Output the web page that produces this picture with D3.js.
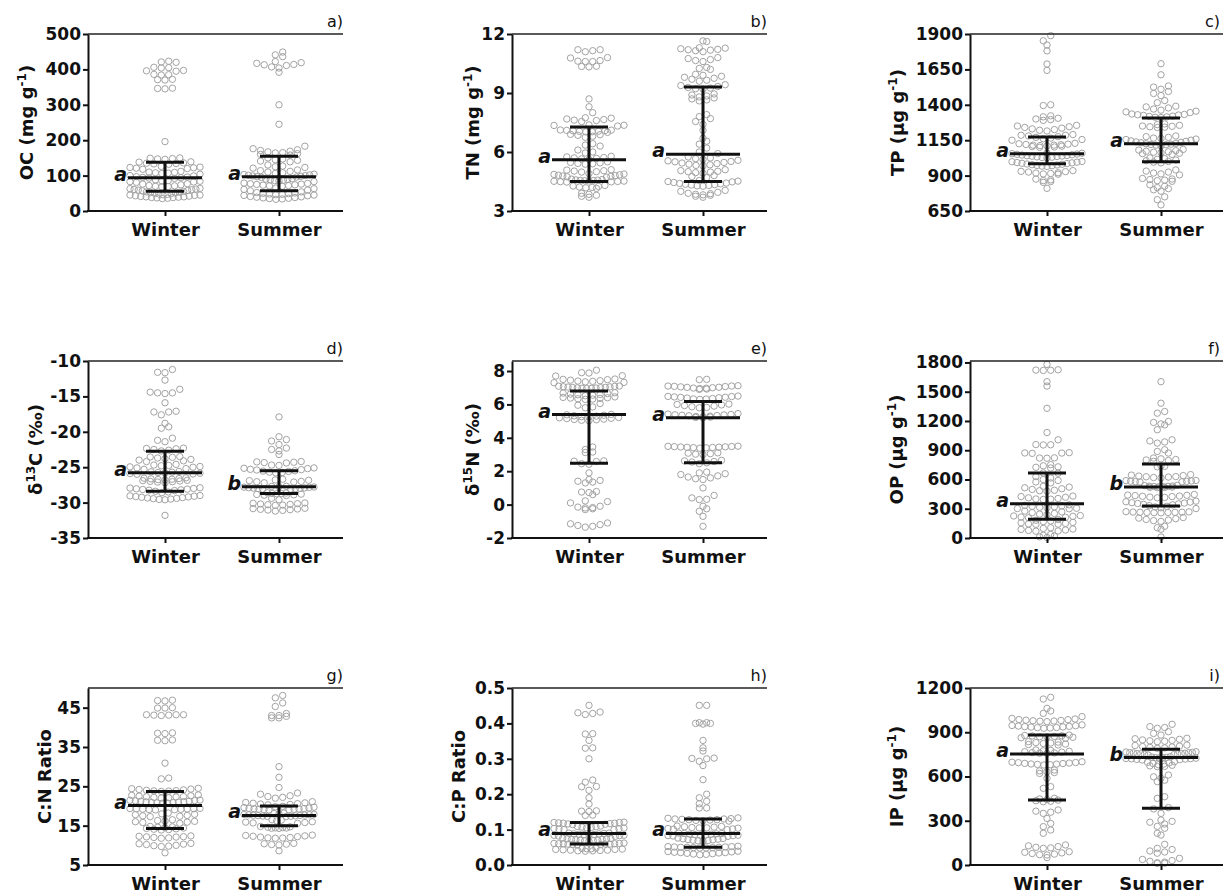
<!DOCTYPE html>
<html>
<head>
<meta charset="utf-8">
<script src="https://cdn.jsdelivr.net/npm/d3@7"></script>
<style>
body { margin: 0; background: #fff; }
</style>
</head>
<body>
<svg id="fig" width="1223" height="896"></svg>
<script>
// ---- data (one array per panel and season) ----
var seasons = ["Winter", "Summer"];

var ocWinter = [423, 421, 420, 406, 404, 405, 397, 396, 395, 386, 385, 384, 371, 370, 372, 347, 346, 345,
    196,
    150, 149, 148, 147, 146,
    139, 138, 136, 135, 134, 133, 132,
    126, 124, 123, 122, 121, 120, 118,
    112, 110, 109, 108, 107, 106, 104,
    100, 99, 97, 96, 95, 94, 93, 92,
    88, 86, 85, 84, 83, 82, 81,
    77, 76, 74, 72, 71, 70, 69, 68,
    64, 63, 62, 61, 60, 59, 58, 57,
    55, 54, 53, 52, 51, 50, 49, 48, 47, 46, 45,
    45, 44, 43, 42, 41, 40, 40, 39, 38, 38, 37, 36, 35];
var ocSummer = [449, 441, 436, 422, 419, 417, 414, 413, 411, 407, 404, 392,
    300, 245, 183,
    176, 173, 171, 169, 167, 165, 164, 162, 160, 158,
    150, 147, 145, 143, 141, 139,
    130, 127, 125, 123, 121,
    116, 114, 112, 110, 108, 106,
    104, 103, 102, 101, 100, 99, 98, 97, 96, 95,
    91, 90, 89, 88, 87, 86, 85, 83,
    79, 78, 77, 76, 75, 74, 73, 72, 71, 70,
    65, 63, 61, 59, 57,
    54, 52, 51, 50, 49, 48, 47, 46, 45, 44, 43,
    41, 40, 39, 38, 37, 36, 35, 34, 33];

var tnWinter = [11.2, 11.15, 11.1, 11.2,
    10.8, 10.6, 10.65, 10.35, 10.33, 10.36, 10.62, 10.6, 10.78,
    8.7, 8.3, 8.0,
    7.72, 7.65, 7.6, 7.55, 7.62, 7.68, 7.74,
    7.38, 7.35, 7.32, 7.36,
    7.12, 7.1, 7.08, 7.05, 7.02, 7.0, 7.03, 7.06, 7.09, 7.11,
    6.9, 6.85, 6.8, 6.75, 6.88,
    6.42, 6.35, 6.3,
    6.1, 6.0, 5.95,
    5.78, 5.75, 5.72, 5.7, 5.68, 5.65, 5.62,
    5.5, 5.47, 5.45, 5.42, 5.4, 5.38,
    5.1, 5.08, 5.05, 5.03, 5.0, 4.98,
    4.9, 4.88, 4.86, 4.84, 4.82, 4.8, 4.78, 4.76, 4.74, 4.72,
    4.62, 4.6, 4.58, 4.57, 4.56, 4.55, 4.54, 4.53, 4.52, 4.51, 4.5, 4.49, 4.48, 4.47,
    4.3, 4.27, 4.25, 4.22, 4.2, 4.18, 4.15,
    3.9, 3.85, 3.75, 3.7, 3.8];
var tnSummer = [11.65, 11.62,
    11.3, 11.25, 11.2, 11.15, 11.1, 11.18, 11.22, 11.28,
    10.8, 10.75, 10.7, 10.65, 10.6,
    10.3, 10.25, 10.2,
    9.95, 9.9, 9.85, 9.8, 9.75, 9.7, 9.65, 9.6,
    9.42, 9.38, 9.33, 9.28, 9.25, 9.22, 9.2,
    8.95, 8.9, 8.85, 8.8, 8.75, 8.7, 8.65, 8.6,
    7.9, 7.8, 7.7, 7.55, 7.4,
    7.1,
    6.7, 6.55, 6.4,
    6.2, 6.0, 5.92,
    5.75, 5.7, 5.66, 5.62, 5.58, 5.55, 5.52, 5.5, 5.47, 5.44, 5.41, 5.38, 5.35, 5.32, 5.3,
    5.1, 5.05, 5.02, 5.0, 4.98, 4.95, 4.92,
    4.8, 4.75, 4.7,
    4.55, 4.52, 4.5, 4.48, 4.45, 4.42, 4.4, 4.38, 4.36, 4.34, 4.32, 4.3, 4.28, 4.26,
    4.05, 4.0, 3.95, 3.9, 3.88, 3.85, 3.82, 3.8, 3.75, 3.7];

var tpWinter = [1888, 1852, 1822, 1781, 1688, 1643,
    1400, 1395,
    1322, 1315, 1305, 1300, 1295, 1290,
    1255, 1250, 1245, 1240, 1235, 1230, 1225, 1220, 1215,
    1190, 1185, 1180, 1175, 1170, 1165, 1160, 1155, 1150, 1185,
    1128, 1125, 1122, 1118, 1115, 1112, 1108, 1105, 1102, 1100, 1110, 1120, 1115,
    1060, 1058, 1055, 1052, 1050, 1047, 1045, 1042, 1040, 1037, 1035, 1032, 1030, 1028, 1025, 1038,
    1000, 998, 995, 992, 990, 987, 985, 982, 980, 977, 975, 972, 970, 967, 965,
    935, 930, 928, 925, 920, 918, 915, 912, 910,
    875, 870, 865, 858, 852,
    810];
var tpSummer = [1690, 1612, 1533, 1525, 1510, 1494, 1480, 1465, 1430, 1415,
    1390, 1385, 1378, 1370, 1362, 1355, 1350, 1345,
    1335, 1332, 1328, 1325, 1320, 1318, 1315, 1312, 1310, 1330,
    1265, 1260, 1255, 1250, 1248, 1245, 1242, 1240,
    1180, 1175, 1170, 1165, 1162, 1158, 1155, 1150,
    1145, 1142, 1138, 1135, 1132, 1128, 1125, 1122, 1120, 1118, 1115, 1110,
    1085, 1080, 1076, 1072, 1068, 1065, 1062, 1058, 1055, 1050,
    1025, 1020, 1015, 1010, 1005, 1000, 995, 990,
    940, 932, 925, 918, 912, 905,
    880, 876, 872, 868, 864, 860,
    835, 825, 815, 808, 800, 790,
    750, 730,
    693];

var c13Winter = [-11.2, -11.6, -11.65,
    -12.7,
    -14.0, -14.5, -14.6, -14.5, -14.4,
    -15.9,
    -17.2, -17.2, -17.6, -17.1,
    -18.8, -19.3, -19.5,
    -20.9, -21.2, -21.4,
    -22.3, -22.4, -22.6, -22.7, -22.5, -22.35,
    -23.5, -23.6, -23.8, -23.9, -24.0, -24.1, -23.7, -23.55, -24.2,
    -24.6, -24.7, -24.8, -24.9, -25.0, -25.1, -25.2, -25.3, -24.75, -24.95,
    -25.6, -25.7, -25.8, -25.9, -26.0, -25.75, -25.85, -25.95, -25.65,
    -26.5, -26.6, -26.7, -26.8, -26.9, -27.0, -27.1, -27.2, -26.55, -26.65, -26.75, -26.85, -26.95, -27.05,
    -27.9, -28.0, -28.1, -28.2, -28.3, -28.4, -28.5, -28.6, -27.95, -28.05, -28.15, -28.25,
    -29.0, -29.1, -29.2, -29.3, -29.4, -29.5, -29.05, -29.15, -29.25, -29.35, -29.45, -29.55, -29.6,
    -31.8];
var c13Summer = [-17.9,
    -20.7, -21.1, -21.3,
    -21.8, -22.3, -22.5, -22.7,
    -23.2,
    -24.2, -24.3, -24.4, -24.25, -24.35,
    -24.7, -24.75,
    -25.1, -25.2, -25.3, -25.4, -25.5, -25.6, -25.7, -25.8, -25.15, -25.35, -25.55, -25.75,
    -26.7, -26.8, -26.9, -27.0, -27.1, -27.2, -26.85, -27.05,
    -27.7, -27.75, -27.8, -27.85, -27.9, -27.95, -28.0, -28.05, -28.1, -27.72, -27.82, -27.92, -28.02, -28.08,
    -28.6, -28.65, -28.7, -28.75, -28.8, -28.85, -28.9, -28.95, -29.0, -28.72,
    -29.4, -29.6,
    -30.1, -30.2, -30.3, -30.15, -30.25, -30.35, -30.05, -30.4,
    -30.8, -30.9, -31.0, -31.1, -31.2, -30.85, -30.95, -31.05];

var n15Winter = [8.05, 7.9, 7.88, 7.7, 7.72,
    7.5, 7.45, 7.4, 7.35, 7.3, 7.32, 7.38, 7.42, 7.48, 7.52,
    7.1, 7.08, 7.05, 7.02, 7.0, 6.98, 6.96, 6.95, 6.97, 6.99, 7.01, 7.04, 7.06, 7.09,
    6.7, 6.68, 6.65, 6.62, 6.6, 6.58, 6.55, 6.52,
    6.45, 6.42, 6.4, 6.38, 6.36, 6.34, 6.32, 6.3,
    6.05, 5.95, 5.85, 5.8,
    5.4, 5.38, 5.35, 5.32, 5.3, 5.27, 5.25, 5.22, 5.2, 5.17, 5.15, 5.12, 5.1, 5.08, 5.05, 5.02,
    3.45, 3.3, 3.15, 3.12,
    2.62, 2.6, 2.58, 2.45, 2.42,
    1.9,
    1.5, 1.45, 1.4, 1.35, 1.3,
    0.78, 0.75, 0.72, 0.6,
    0.22, 0.18, 0.1,
    -0.1, -0.15, -0.2, -0.25, -0.3, -0.18,
    -1.1, -1.15, -1.2, -1.25, -1.3, -1.35];
var n15Summer = [7.5, 7.48,
    7.12, 7.1, 7.08, 7.05, 7.02, 7.0, 6.98, 6.95, 6.92, 6.9, 6.97, 7.03, 7.07, 7.1,
    6.5, 6.48, 6.45, 6.42, 6.4, 6.38, 6.35, 6.32, 6.3, 6.33, 6.43, 6.47,
    6.02, 6.0, 5.97, 5.93, 5.9, 5.86, 5.82, 5.8,
    5.45, 5.42, 5.4, 5.37, 5.35, 5.32, 5.3, 5.28, 5.26, 5.24, 5.22, 5.2, 5.33, 5.38,
    3.5, 3.48, 3.46, 3.45, 3.44, 3.42, 3.4, 3.38, 3.47, 3.43, 3.41, 3.49,
    3.1, 3.08, 3.05, 3.02, 3.0,
    2.65, 2.62, 2.58, 2.55, 2.5, 2.45,
    1.95, 1.9, 1.85, 1.8, 1.72, 1.65, 1.6, 1.55, 1.5,
    1.0, 0.55, 0.4, 0.3, 0.32,
    -0.1, -0.25, -0.4,
    -0.7, -1.3];

var opWinter = [1780, 1722, 1720, 1718, 1725,
    1603, 1558,
    1330, 1082, 1007,
    956, 958, 954,
    871, 875, 868, 872,
    820, 822, 818,
    752, 740, 730, 725, 718,
    667, 665,
    630, 615, 600, 590, 575, 565,
    530, 522, 515, 505, 498, 490, 485, 480,
    430, 425, 418, 412, 405, 400, 398, 395,
    340, 335, 330, 325, 320, 315, 310, 305, 302, 300,
    276, 268, 260, 252, 245, 238, 230, 222, 215, 208, 212, 226,
    190, 182, 175, 168, 160, 155, 150, 145, 142, 140,
    105, 98, 92, 88, 82, 78, 72, 70,
    37, 28, 20, 12, 5];
var opSummer = [1603,
    1382, 1297, 1280,
    1195, 1185, 1170, 1160,
    1110,
    1007, 995, 985, 973,
    905, 888, 871,
    820, 812, 805, 800, 795, 786,
    740, 735, 730,
    650, 645, 640, 635, 630, 628, 625, 620, 616,
    590, 588, 585, 582, 580, 578, 576, 574,
    540, 537, 534, 531, 528, 525, 522, 519, 516, 530, 526, 520,
    446, 440, 435, 430, 425, 420, 416, 412, 438, 428,
    378, 372, 368, 362, 358, 354, 350, 345,
    340, 332, 325, 318, 310, 302,
    270, 268, 266, 264, 262, 260, 258, 265, 263, 261,
    210, 204, 198, 190, 184, 178, 170,
    120, 105, 90,
    10];

var cnWinter = [46.8, 46.9, 46.7,
    44.9, 44.9, 45.0,
    43.2, 43.1, 43.2, 43.0, 43.2, 43.1,
    38.5, 38.4, 38.6, 36.7, 36.6, 36.8,
    30.9,
    26.9, 27.1,
    24.5, 24.3, 24.1, 24.0, 23.9, 23.8, 23.7, 24.2, 24.4, 23.85,
    22.8, 22.6, 22.5, 22.4, 22.3, 22.2, 22.1, 22.0, 22.7, 22.35,
    21.5, 21.4, 21.3, 21.2, 21.1, 21.0, 20.9, 20.8, 20.7, 21.45, 21.25, 21.05, 20.85, 20.75,
    19.4, 19.35, 19.3, 19.25, 19.2, 19.15, 19.1, 19.05, 19.0, 19.32,
    18.2, 18.0, 17.8, 17.6, 17.5, 17.4, 17.3, 17.9,
    16.5, 16.3, 16.2, 16.0, 15.9, 15.8, 15.6, 16.1,
    14.8, 14.7, 14.6, 14.5, 14.4, 14.3, 14.2, 14.1, 14.0, 13.9,
    12.2, 12.1, 12.0, 11.9, 11.8, 12.3, 12.4, 12.15,
    10.5, 10.3, 10.2, 10.0, 9.9, 9.8, 9.7, 10.4,
    8.1];
var cnSummer = [48.1, 47.5, 46.2, 45.3,
    43.5, 43.0, 43.0, 42.8, 42.4, 42.4,
    30.0, 27.3, 24.7,
    23.3, 23.0, 22.6, 22.4, 22.2, 22.0,
    21.1, 20.9, 20.8, 20.7, 20.6, 20.5, 20.4, 20.3,
    19.9, 19.8, 19.7, 19.6, 19.5, 19.4, 19.35, 19.3, 19.25, 19.2, 19.15, 19.1, 19.05, 19.0,
    18.2, 18.1, 18.0, 17.9, 17.8, 17.7, 17.6, 17.55, 17.5, 17.45, 17.4, 17.35, 17.3, 17.75, 17.65, 17.85,
    16.5, 16.4, 16.2, 16.0, 15.9, 15.8, 15.7, 15.6,
    14.8, 14.7, 14.6, 14.5, 14.45, 14.4, 14.35, 14.3,
    12.6, 12.5, 12.4, 12.3, 12.2, 12.1, 12.0, 11.9, 11.85, 11.8,
    10.5, 10.4, 10.3, 10.2, 10.1,
    8.6];

var cpWinter = [0.451,
    0.43, 0.428, 0.425, 0.432,
    0.371, 0.37, 0.352,
    0.331, 0.33,
    0.30,
    0.234, 0.24, 0.222, 0.221, 0.211,
    0.19, 0.172,
    0.152, 0.151, 0.153, 0.14, 0.141,
    0.121, 0.12, 0.119, 0.118, 0.117, 0.116, 0.115, 0.114, 0.12, 0.118,
    0.11, 0.109, 0.108, 0.107, 0.106, 0.105, 0.104, 0.103, 0.102, 0.101, 0.1, 0.1,
    0.09, 0.089, 0.088, 0.087, 0.086, 0.085, 0.084, 0.083, 0.082, 0.081, 0.09, 0.088, 0.086, 0.084,
    0.076, 0.075, 0.074, 0.073, 0.072, 0.071, 0.07, 0.069, 0.068, 0.067, 0.072, 0.07,
    0.062, 0.061, 0.06, 0.06, 0.059, 0.059, 0.058, 0.058, 0.057, 0.06, 0.061, 0.059,
    0.048, 0.047, 0.046, 0.045, 0.044, 0.043, 0.042, 0.041, 0.04, 0.039, 0.046, 0.044, 0.042, 0.04];
var cpSummer = [0.451, 0.451,
    0.402, 0.4, 0.398, 0.4, 0.402,
    0.352, 0.331, 0.322, 0.301, 0.3, 0.302, 0.293, 0.281,
    0.241,
    0.2, 0.19, 0.18, 0.173, 0.161, 0.161,
    0.133, 0.132, 0.131, 0.13, 0.129, 0.128, 0.127, 0.126, 0.125, 0.124, 0.13, 0.128,
    0.11, 0.109, 0.108, 0.107, 0.106, 0.105, 0.104, 0.103, 0.102, 0.101, 0.1, 0.105,
    0.09, 0.089, 0.088, 0.087, 0.086, 0.085, 0.084, 0.083, 0.082, 0.081, 0.087, 0.085, 0.083, 0.089,
    0.076, 0.075, 0.074, 0.073, 0.072, 0.071, 0.07, 0.069, 0.068, 0.067,
    0.053, 0.052, 0.051, 0.05, 0.05, 0.049, 0.049, 0.048, 0.048, 0.051, 0.052, 0.05,
    0.039, 0.038, 0.037, 0.036, 0.035, 0.034, 0.033, 0.032, 0.031, 0.03, 0.029, 0.035];

var ipWinter = [1137, 1125,
    1062, 1044, 1028, 1006,
    994, 990, 986, 982, 978, 975, 972, 985, 980, 976,
    950, 946, 942, 938, 935, 932, 929, 927, 944, 936, 940, 931,
    881, 878, 875, 872, 869, 866, 863, 860, 876, 870,
    836, 833, 830, 827, 824, 820, 817, 814,
    780, 777, 774, 771, 768, 765, 762, 760, 758, 757,
    700, 697, 694, 691, 688, 685, 682, 680, 678, 695, 689, 684,
    644, 638, 632, 627, 621,
    588, 531, 520,
    452, 448, 444, 440, 436, 432, 429,
    373, 365, 358, 350,
    316,
    282, 260, 237, 215,
    136, 130, 125, 120, 116, 113,
    90, 86, 82, 78, 74, 70, 68,
    50];
var ipSummer = [954, 938, 932, 927,
    904, 892, 881,
    859, 856, 852, 848, 845, 842, 839, 836,
    813, 810, 806, 803, 800, 797, 794, 791,
    768, 766, 764, 762, 760, 758, 756, 754, 752, 750, 748, 746, 761, 755,
    734, 732, 730, 728, 726, 724, 722, 720, 718, 716, 714, 712, 727, 721,
    700, 696, 692, 688, 684, 680, 676, 672, 669, 667,
    610, 598, 588, 575, 565,
    463, 452,
    389, 380,
    350,
    305, 290, 278, 262, 249, 296,
    215, 203, 140,
    113, 105, 95, 88, 80,
    45, 38, 30, 25, 20, 15, 12, 11];

// median and interquartile range drawn as error bars, one entry per panel a) .. i)
var medWinter = [94, 5.6, 1054, -25.8, 5.39, 351, 20.1, 0.089, 753];
var medSummer = [97, 5.88, 1125, -27.75, 5.2, 524, 17.6, 0.089, 728];
var q1Winter = [56, 4.5, 983, -28.4, 2.47, 191, 14.3, 0.059, 441];
var q1Summer = [57, 4.5, 997, -28.7, 2.5, 327, 15.0, 0.05, 384];
var q3Winter = [138, 7.27, 1173, -22.75, 6.8, 667, 23.7, 0.12, 881];
var q3Summer = [155, 9.31, 1306, -25.5, 6.18, 760, 20.0, 0.13, 784];
var letterWinter = ["a", "a", "a", "a", "a", "a", "a", "a", "a"];
var letterSummer = ["a", "a", "a", "b", "a", "b", "a", "a", "b"];

var panelTags = ["a)", "b)", "c)", "d)", "e)", "f)", "g)", "h)", "i)"];
var yDomains = [[0, 500], [3, 12], [650, 1900], [-35, -10], [-2, 8.6], [0, 1815], [5, 50], [0, 0.5], [0, 1200]];
var yTicks = [
    [0, 100, 200, 300, 400, 500],
    [3, 6, 9, 12],
    [650, 900, 1150, 1400, 1650, 1900],
    [-35, -30, -25, -20, -15, -10],
    [-2, 0, 2, 4, 6, 8],
    [0, 300, 600, 900, 1200, 1500, 1800],
    [5, 15, 25, 35, 45],
    [0, 0.1, 0.2, 0.3, 0.4, 0.5],
    [0, 300, 600, 900, 1200]];
// title pieces: [text, superscript?]
var yTitles = [
    [["OC (mg g", 0], ["-1", 1], [")", 0]],
    [["TN (mg g", 0], ["-1", 1], [")", 0]],
    [["TP (\u00b5g g", 0], ["-1", 1], [")", 0]],
    [["\u03b4", 0], ["13", 1], ["C (\u2030)", 0]],
    [["\u03b4", 0], ["15", 1], ["N (\u2030)", 0]],
    [["OP (\u00b5g g", 0], ["-1", 1], [")", 0]],
    [["C:N Ratio", 0]],
    [["C:P Ratio", 0]],
    [["IP (\u00b5g g", 0], ["-1", 1], [")", 0]]];

var winterData = [ocWinter, tnWinter, tpWinter, c13Winter, n15Winter, opWinter, cnWinter, cpWinter, ipWinter];
var summerData = [ocSummer, tnSummer, tpSummer, c13Summer, n15Summer, opSummer, cnSummer, cpSummer, ipSummer];

// ---- layout ----
var colX = [88, 512, 970], rowY = [34, 361, 688];
var plotW = 255, plotH = 177;
var catX = [77, 191];
var titleOff = [55, 33, 66, 46, 33, 67, 37, 47, 67];
var FONT = "DejaVu Sans";
var pageW = 1223;
var dotR = 3.2, binH = 7, dotGap = 7.4, maxHalf = 35;

var svg = d3.select("#fig");

// Prism-like scatter: bin by pixel row, spread each row horizontally, lowest values in the middle
function swarm(vals, y, cx) {
    var pts = vals.map(function (v) { return {v: v, py: y(v)}; });
    var rows = d3.group(pts, function (d) { return Math.floor(d.py / binH); });
    rows.forEach(function (row) {
        row.sort(function (a, b) { return a.v - b.v; });
        var n = row.length;
        var s = n > 1 ? Math.min(dotGap, 2 * maxHalf / (n - 1)) : 0;
        var slots = d3.range(n).map(function (k) { return (k - (n - 1) / 2) * s; });
        slots.sort(function (a, b) { return Math.abs(a) - Math.abs(b) || a - b; });
        row.forEach(function (d, k) { d.px = cx + slots[k]; });
    });
    return pts;
}

panelTags.forEach(function (tag, i) {
    var x0 = colX[i % 3], y0 = rowY[Math.floor(i / 3)];
    var g = svg.append("g").attr("transform", "translate(" + x0 + "," + y0 + ")");

    var y = d3.scaleLinear().domain(yDomains[i]).range([plotH, 0]);
    var x = d3.scaleOrdinal().domain(seasons).range(catX);

    var sets = [
        {s: "Winter", vals: winterData[i], med: medWinter[i], q1: q1Winter[i], q3: q3Winter[i], letter: letterWinter[i]},
        {s: "Summer", vals: summerData[i], med: medSummer[i], q1: q1Summer[i], q3: q3Summer[i], letter: letterSummer[i]}
    ];

    // dots
    sets.forEach(function (set) {
        var pts = swarm(set.vals, y, x(set.s));
        g.append("g").selectAll("circle")
            .data(pts)
            .enter()
            .append("circle")
            .attr("cx", function (d) { return d.px; })
            .attr("cy", function (d) { return d.py; })
            .attr("r", dotR)
            .attr("fill", "none")
            .attr("stroke", "#a3a3a3")
            .attr("stroke-width", 1);
    });

    // median + IQR
    sets.forEach(function (set) {
        var cx = x(set.s);
        var eb = g.append("g").attr("stroke", "#111").attr("stroke-width", 3);
        eb.append("line").attr("x1", cx).attr("x2", cx).attr("y1", y(set.q1)).attr("y2", y(set.q3));
        eb.append("line").attr("x1", cx - 37).attr("x2", cx + 37).attr("y1", y(set.med)).attr("y2", y(set.med));
        eb.append("line").attr("x1", cx - 19).attr("x2", cx + 19).attr("y1", y(set.q1)).attr("y2", y(set.q1));
        eb.append("line").attr("x1", cx - 19).attr("x2", cx + 19).attr("y1", y(set.q3)).attr("y2", y(set.q3));
        g.append("text")
            .attr("x", cx - 38)
            .attr("y", y(set.med) + 3)
            .attr("text-anchor", "end")
            .attr("font-family", FONT)
            .attr("font-weight", "bold")
            .attr("font-style", "italic")
            .attr("font-size", 19)
            .attr("fill", "#111")
            .text(set.letter);
    });

    // axes
    var fmt = i == 7 ? d3.format(".1f") : function (d) { return String(d); };
    var ya = g.append("g")
        .call(d3.axisLeft(y).tickValues(yTicks[i]).tickSize(5).tickPadding(2).tickSizeOuter(0).tickFormat(fmt));
    ya.attr("font-family", FONT).attr("font-weight", "bold").attr("font-size", 17);
    ya.select(".domain").attr("stroke", "#111").attr("stroke-width", 2);
    ya.selectAll(".tick line").attr("stroke", "#111").attr("stroke-width", 2);
    ya.selectAll(".tick text").attr("fill", "#111");

    var xa = g.append("g")
        .attr("transform", "translate(0," + plotH + ")")
        .call(d3.axisBottom(x).tickSize(5).tickPadding(7).tickSizeOuter(0));
    xa.attr("font-family", FONT).attr("font-weight", "bold").attr("font-size", 18);
    xa.select(".domain").remove();
    xa.selectAll(".tick line").attr("stroke", "#111").attr("stroke-width", 2);
    xa.selectAll(".tick text").attr("fill", "#111");
    g.append("line").attr("x1", -1).attr("x2", plotW).attr("y1", plotH).attr("y2", plotH)
        .attr("stroke", "#111").attr("stroke-width", 2);

    // top frame line
    g.append("line").attr("x1", 0).attr("x2", plotW).attr("y1", 0).attr("y2", 0)
        .attr("stroke", "#222").attr("stroke-width", 1.5);

    // panel tag (kept inside the page on the right-hand column)
    g.append("text")
        .attr("x", Math.min(plotW, pageW - 3 - x0))
        .attr("y", -7)
        .attr("text-anchor", "end")
        .attr("font-family", FONT)
        .attr("font-size", 16)
        .attr("fill", "#111")
        .text(tag);

    // y title
    var t = g.append("text")
        .attr("transform", "translate(" + (-titleOff[i]) + "," + (plotH / 2) + ") rotate(-90)")
        .attr("text-anchor", "middle")
        .attr("font-family", FONT)
        .attr("font-weight", "bold")
        .attr("font-size", 18)
        .attr("fill", "#111");
    var raised = false;
    yTitles[i].forEach(function (pc) {
        var sp = t.append("tspan").text(pc[0]);
        if (pc[1]) {
            sp.attr("font-size", 12).attr("dy", -7);
            raised = true;
        } else if (raised) {
            sp.attr("dy", 7);
            raised = false;
        }
    });
});
</script>
</body>
</html>
